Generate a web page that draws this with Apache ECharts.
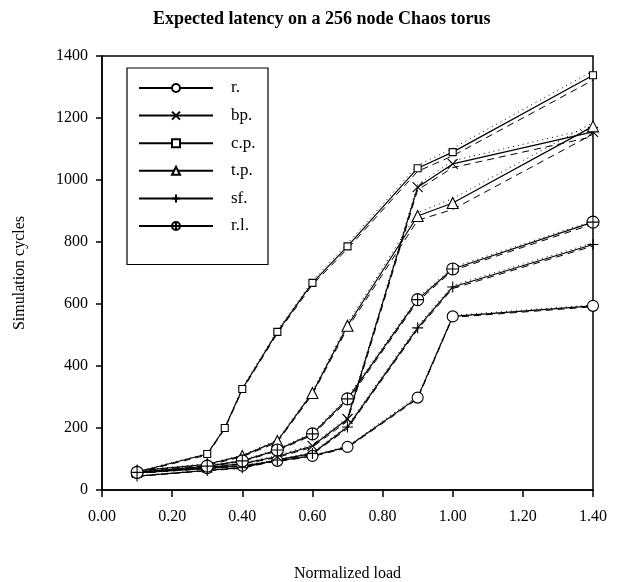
<!DOCTYPE html>
<html><head><meta charset="utf-8">
<script src="https://cdn.jsdelivr.net/npm/echarts@6/dist/echarts.min.js"></script>
<style>html,body{margin:0;padding:0;background:#fff}#c{width:621px;height:582px}</style>
</head><body><div id="c"></div>
<script>
const loads   = [0.1, 0.3, 0.4, 0.5, 0.6, 0.7, 0.9, 1.0, 1.4];
const cpLoads = [0.1, 0.3, 0.35, 0.4, 0.5, 0.6, 0.7, 0.9, 1.0, 1.4];
const seriesNames = ['r.', 'bp.', 'c.p.', 't.p.', 'sf.', 'r.l.'];

const rVals  = [55, 70, 78, 94, 110, 139, 298, 560, 594];
const bpVals = [55, 72, 85, 108, 142, 229, 977, 1052, 1155];
const cpVals = [58, 116, 200, 326, 510, 668, 786, 1038, 1090, 1338];
const tpVals = [62, 83, 110, 158, 313, 530, 884, 926, 1173];
const sfVals = [45, 63, 72, 97, 118, 203, 523, 655, 792];
const rlVals = [57, 77, 94, 129, 181, 294, 614, 713, 864];

// unlabelled dotted (upper) and dashed (lower) companion lines
const cpHi = [60, 118, 202, 330, 515, 675, 795, 1048, 1102, 1352];
const cpLo = [56, 113, 197, 322, 505, 662, 778, 1028, 1078, 1322];
const tpHi = [63, 85, 112, 162, 318, 538, 895, 940, 1185];
const tpLo = [60, 80, 107, 154, 308, 522, 870, 905, 1148];
const bpHi = [56, 74, 87, 111, 146, 235, 985, 1062, 1168];
const bpLo = [54, 70, 83, 105, 138, 222, 968, 1040, 1140];
const sfHi = [46, 64, 74, 99, 121, 208, 530, 660, 797];
const sfLo = [44, 62, 70, 95, 115, 198, 518, 650, 787];
const rlHi = [58, 79, 96, 132, 185, 300, 620, 718, 868];
const rlLo = [56, 75, 92, 126, 177, 288, 608, 708, 858];
const rHi  = [56, 71, 80, 96, 112, 142, 303, 563, 597];
const rLo  = [54, 69, 76, 92, 108, 136, 294, 557, 591];

const xTicks = ['0.00','0.20','0.40','0.60','0.80','1.00','1.20','1.40'];
const yTicks = ['0','200','400','600','800','1000','1200','1400'];

const pair = (xs, ys) => xs.map((x, i) => [x, ys[i]]);
const FONT = 'Liberation Serif';

const symbols = {
  'r.':  {symbol: 'circle', size: 11},
  'bp.': {symbol: 'path://M0 0 L10 10 M10 0 L0 10', size: 10},
  'c.p.':{symbol: 'rect', size: 7},
  't.p.':{symbol: 'triangle', size: 11},
  'sf.': {symbol: 'path://M5 0 L5 10 M0 5 L10 5', size: 11},
  'r.l.':{symbol: 'path://M10 0 A10 10 0 1 1 10 20 A10 10 0 1 1 10 0 Z M10 0 L10 20 M0 10 L20 10', size: 12}
};
const mainData = {
  'r.': pair(loads, rVals), 'bp.': pair(loads, bpVals), 'c.p.': pair(cpLoads, cpVals),
  't.p.': pair(loads, tpVals), 'sf.': pair(loads, sfVals), 'r.l.': pair(loads, rlVals)
};
const extra = [
  pair(cpLoads, cpHi), pair(cpLoads, cpLo), pair(loads, tpHi), pair(loads, tpLo),
  pair(loads, bpHi), pair(loads, bpLo), pair(loads, sfHi), pair(loads, sfLo),
  pair(loads, rlHi), pair(loads, rlLo), pair(loads, rHi), pair(loads, rLo)
];

const series = [];
extra.forEach((d, i) => {
  series.push({
    type: 'line', data: d, symbol: 'none', silent: true, z: 1,
    lineStyle: {color: '#000', width: 1, type: i % 2 === 0 ? [1, 4] : [7, 5]}
  });
});
seriesNames.forEach(n => {
  series.push({
    name: n, type: 'line', data: mainData[n], z: 3,
    symbol: symbols[n].symbol, symbolSize: symbols[n].size,
    itemStyle: {color: '#fff', borderColor: '#000', borderWidth: 1.1},
    lineStyle: {color: '#000', width: 1.2},
    emphasis: {disabled: true}
  });
});

const chart = echarts.init(document.getElementById('c'), null, {renderer: 'canvas'});
chart.setOption({
  animation: false,
  backgroundColor: '#fff',
  title: {
    text: 'Expected latency on a 256 node Chaos torus',
    left: 148, top: 5,
    textStyle: {fontFamily: FONT, fontWeight: 'bold', fontSize: 18, color: '#000'}
  },
  grid: {left: 102, right: 28, top: 56, bottom: 92, show: true, borderColor: '#000', borderWidth: 1.5,
    containLabel: false, outerBoundsMode: 'none'},
  legend: {
    data: seriesNames, orient: 'vertical', left: 127, top: 68,
    itemWidth: 74, itemHeight: 10, itemGap: 10.6,
    padding: [11.5, 9, 30, 11],
    backgroundColor: '#fff', borderColor: '#000', borderWidth: 1.2,
    textStyle: {fontFamily: FONT, fontSize: 17, lineHeight: 17, color: '#000', width: 28, padding: [0, 0, 0, 13]},
    selectedMode: false
  },
  xAxis: {
    type: 'value', min: 0, max: 1.4, interval: 0.2,
    name: 'Normalized load', nameLocation: 'middle', nameGap: 76,
    nameTextStyle: {fontFamily: FONT, fontSize: 16, color: '#000'},
    axisLine: {lineStyle: {color: '#000', width: 1.5}},
    axisTick: {length: 7, lineStyle: {color: '#000', width: 1.5}},
    axisLabel: {fontFamily: FONT, fontSize: 16, color: '#000', margin: 19,
      formatter: (v) => xTicks[Math.round(v / 0.2)] || ''},
    splitLine: {show: false}
  },
  yAxis: {
    type: 'value', min: 0, max: 1400, interval: 200,
    name: 'Simulation cycles', nameLocation: 'middle', nameGap: 74,
    nameTextStyle: {fontFamily: FONT, fontSize: 16, color: '#000'},
    axisLine: {show: true, lineStyle: {color: '#000', width: 1.5}},
    axisTick: {show: true, length: 6, lineStyle: {color: '#000', width: 1.5}},
    axisLabel: {fontFamily: FONT, fontSize: 16, color: '#000', margin: 14,
      formatter: (v) => yTicks[Math.round(v / 200)] || ''},
    splitLine: {show: false}
  },
  series: series
});
</script>
</body></html>
